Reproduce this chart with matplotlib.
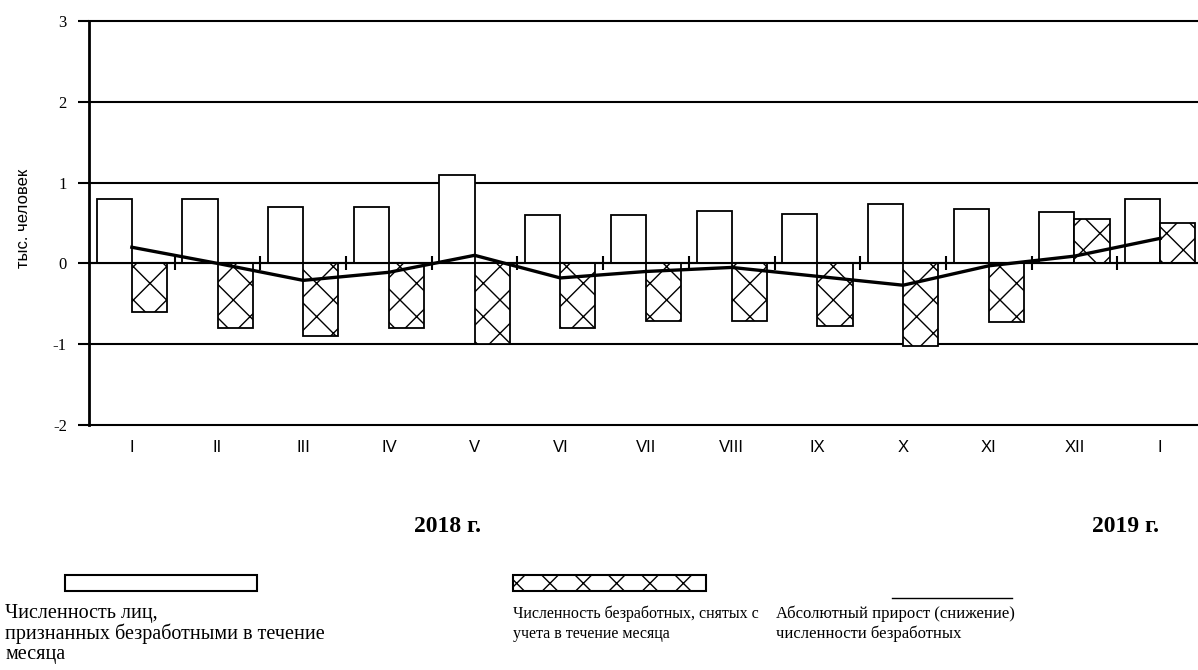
import numpy as np
import matplotlib
matplotlib.use("Agg")
from matplotlib import pyplot as plt
from matplotlib.patches import Rectangle
from matplotlib.lines import Line2D

# Data (thousand people)
months = ['I', 'II', 'III', 'IV', 'V', 'VI', 'VII', 'VIII', 'IX', 'X', 'XI', 'XII', 'I']
recognized = [0.8, 0.8, 0.7, 0.7, 1.1, 0.6, 0.6, 0.65, 0.61, 0.74, 0.67, 0.64, 0.8]
removed = [-0.6, -0.8, -0.9, -0.8, -1.0, -0.8, -0.71, -0.71, -0.78, -1.02, -0.73, 0.55, 0.5]
change = [0.2, 0.0, -0.21, -0.11, 0.1, -0.18, -0.1, -0.05, -0.16, -0.27, -0.03, 0.09, 0.31]
yticks = [-2, -1, 0, 1, 2, 3]

plt.rcParams['hatch.linewidth'] = 1.0
serif = 'Liberation Serif'
sans = 'Liberation Sans'

W, H = 1198, 670
fig = plt.figure(figsize=(W / 100, H / 100), dpi=100)
ax = fig.add_axes([89 / W, 245 / H, 1114 / W, 404 / H])

x = np.arange(len(months)) + 0.5
w = 0.41
ax.bar(x - w / 2, recognized, w, color='white', edgecolor='black', linewidth=1.3, zorder=2)
ax.bar(x + w / 2, removed, w, color='white', edgecolor='black', hatch='x', linewidth=1.3, zorder=2)
ax.plot(x, change, color='black', linewidth=2.4, zorder=3)

ax.set_xlim(0, len(months))
ax.set_ylim(-2, 3)
ax.set_yticks(yticks)
ax.set_yticklabels([str(v) for v in yticks], fontfamily=serif, fontsize=12)
ax.yaxis.grid(True, color='black', linewidth=1.5)
for gl in ax.get_ygridlines():
    gl.set_clip_on(False)
ax.set_axisbelow(True)
ax.tick_params(axis='y', length=8, width=1.5, pad=8)

for s in ['top', 'right']:
    ax.spines[s].set_visible(False)
ax.spines['left'].set_linewidth(2)
ax.spines['bottom'].set_position(('data', 0))
ax.spines['bottom'].set_linewidth(1.5)
ax.set_xticks(np.arange(1, len(months)))
ax.tick_params(axis='x', direction='inout', length=10, width=1.5, labelbottom=False)

sec = ax.secondary_xaxis('bottom')
sec.set_xticks(x)
sec.set_xticklabels(months, fontfamily=sans, fontsize=12)
sec.tick_params(length=0, pad=11)
sec.spines['bottom'].set_visible(False)

ax.set_ylabel('тыс. человек', fontfamily=sans, fontsize=12)
ax.yaxis.set_label_coords(-0.052, 0.512)

fig.text(448 / W, 1 - 527 / H, '2018 г.', fontfamily=serif, fontsize=17,
         fontweight='bold', ha='center', va='center')
fig.text(1126 / W, 1 - 527 / H, '2019 г.', fontfamily=serif, fontsize=17,
         fontweight='bold', ha='center', va='center')

# Legend drawn below the chart
fig.patches.append(Rectangle((65 / W, 1 - 591 / H), 192 / W, 16 / H, transform=fig.transFigure,
                             facecolor='white', edgecolor='black', linewidth=1.5))
fig.patches.append(Rectangle((513 / W, 1 - 591 / H), 193 / W, 16 / H, transform=fig.transFigure,
                             facecolor='white', edgecolor='black', hatch='x', linewidth=1.5))
fig.lines.append(Line2D([892 / W, 1012 / W], [1 - 598 / H, 1 - 598 / H], transform=fig.transFigure,
                        color='black', linewidth=1))

legend_texts = [
    (5, 14.5, ['Численность лиц,', 'признанных безработными в течение', 'месяца']),
    (513, 11.5, ['Численность безработных, снятых с', 'учета в течение месяца']),
    (776, 12, ['Абсолютный прирост (снижение)', 'численности безработных']),
]
for lx, fs, lines in legend_texts:
    for i, line in enumerate(lines):
        fig.text(lx / W, 1 - (618 + 20.5 * i) / H, line, fontfamily=serif, fontsize=fs,
                 ha='left', va='baseline')

fig.savefig('out.png', dpi=100)
